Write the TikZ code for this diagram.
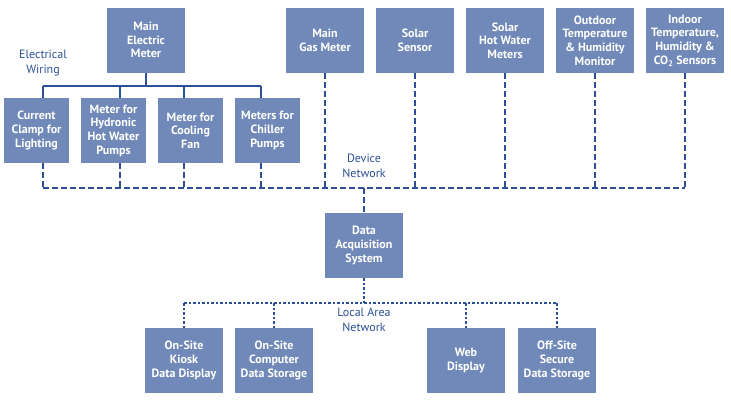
\documentclass[tikz,border=0pt]{standalone}
\usepackage{fontspec}
\setmainfont{PT Sans}
\definecolor{boxblue}{HTML}{7189B9}
\definecolor{lineblue}{HTML}{2D4F95}
\begin{document}
\begin{tikzpicture}[x=1pt,y=-1pt,
 box/.style={fill=boxblue, draw=none, minimum width=78pt, minimum height=65pt, align=center, text=white, font=\bfseries\fontsize{12}{13.7}\selectfont, inner sep=0pt},
 sbox/.style={box, minimum width=65pt},
 lbl/.style={text=lineblue, align=center, font=\fontsize{12}{15}\selectfont, inner sep=0pt},
 wire/.style={draw=lineblue, line width=2pt},
 dnet/.style={draw=lineblue, line width=2pt, dash pattern=on 6pt off 3pt},
 lan/.style={draw=lineblue, line width=2pt, dash pattern=on 2.5pt off 2pt}]
\useasboundingbox (0,0) rectangle (731,402);
% top row
\node[box] (mem) at (146,40) {Main\\Electric\\Meter};
\node[box] (gas) at (325,40.5) {Main\\Gas Meter};
\node[box] (sol) at (415,40.5) {Solar\\Sensor};
\node[box] (shw) at (505,40.5) {Solar\\Hot Water\\Meters};
\node[box] (out) at (595,40.5) {Outdoor\\Temperature\\\& Humidity\\Monitor};
\node[box] (ind) at (685,40.5) {Indoor\\Temperature,\\Humidity \&\\CO\textsubscript{2} Sensors};
% second row
\node[sbox] (cc) at (36.5,130.5) {Current\\Clamp for\\Lighting};
\node[sbox] (hyd) at (113.5,130.5) {Meter for\\Hydronic\\Hot Water\\Pumps};
\node[sbox] (fan) at (190.5,130.5) {Meter for\\Cooling\\Fan};
\node[sbox] (chi) at (267.5,130.5) {Meters for\\Chiller\\Pumps};
% DAQ
\node[box] (daq) at (364,245.5) {Data\\Acquisition\\System};
% bottom
\node[box] (kio) at (184,360.5) {On-Site\\Kiosk\\Data Display};
\node[box] (com) at (274,360.5) {On-Site\\Computer\\Data Storage};
\node[box] (web) at (466,360.5) {Web\\Display};
\node[box] (off) at (557,360.5) {Off-Site\\Secure\\Data Storage};
% labels
\node[lbl] (ewl) at (43,63.5) {Electrical\\Wiring};
\node[lbl] (dnl) at (364,165.5) {Device\\Network};
\node[lbl] (lanl) at (364,319.5) {Local Area\\Network};
% electrical wiring
\coordinate (ew) at (146,86);
\coordinate (w1) at (43,86);
\coordinate (w2) at (120,86);
\coordinate (w3) at (184,86);
\coordinate (w4) at (261,86);
\draw[wire] (mem.south) -- (ew);
\draw[wire] (w1) -- (w4);
\draw[wire] (w1) -- (w1 |- cc.north);
\draw[wire] (w2) -- (w2 |- hyd.north);
\draw[wire] (w3) -- (w3 |- fan.north);
\draw[wire] (w4) -- (w4 |- chi.north);
% device network
\coordinate (d1) at (43,188);
\coordinate (d9) at (685,188);
\draw[dnet] (d1) -- (d9);
\draw[dnet] (w1 |- cc.south) -- (d1);
\draw[dnet] (w2 |- hyd.south) -- (w2 |- d1);
\draw[dnet] (w3 |- fan.south) -- (w3 |- d1);
\draw[dnet] (w4 |- chi.south) -- (w4 |- d1);
\draw[dnet] (gas.south) -- (gas.south |- d1);
\draw[dnet] (sol.south) -- (sol.south |- d1);
\draw[dnet] (shw.south) -- (shw.south |- d1);
\draw[dnet] (out.south) -- (out.south |- d1);
\draw[dnet] (ind.south) -- (d9);
\draw[dnet] (daq.north |- d1) -- (daq.north);
% LAN
\coordinate (l0) at (364,303);
\draw[lan] (daq.south) -- (l0);
\draw[lan] (kio.north |- l0) -- (off.north |- l0);
\draw[lan] (kio.north |- l0) -- (kio.north);
\draw[lan] (com.north |- l0) -- (com.north);
\draw[lan] (web.north |- l0) -- (web.north);
\draw[lan] (off.north |- l0) -- (off.north);
\end{tikzpicture}
\end{document}
